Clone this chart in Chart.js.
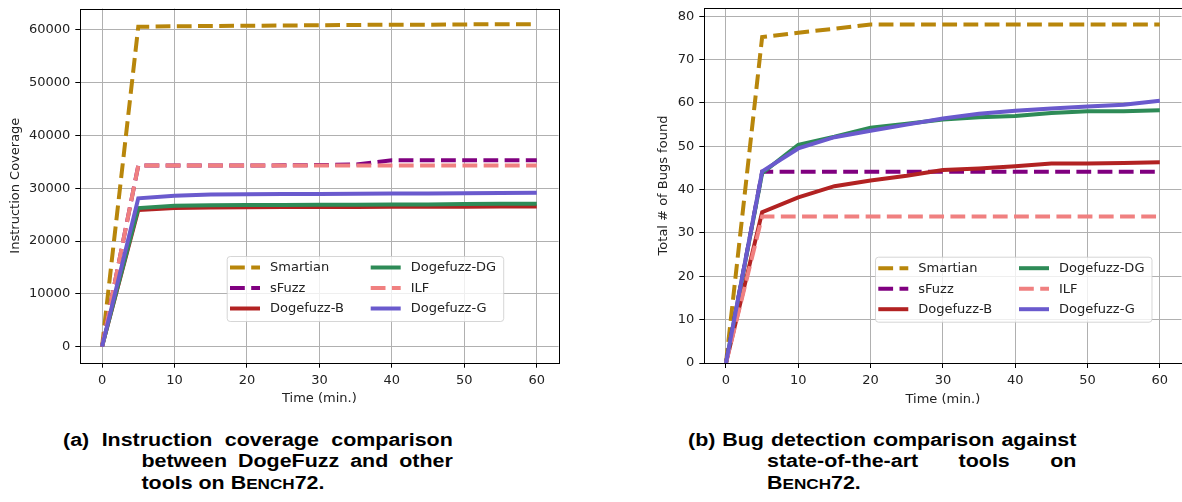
<!DOCTYPE html>
<html>
<head>
<meta charset="utf-8">
<script src="https://cdn.jsdelivr.net/npm/chart.js@4.4.1/dist/chart.umd.min.js"></script>
<style>
  body { margin: 0; background: #fff; width: 1182px; height: 502px; position: relative; overflow: hidden; }
  .grafico { position: absolute; top: 0; }
  .legenda {
    position: absolute; box-sizing: border-box;
    font: bold 18px "Liberation Sans", Arial, sans-serif; color: #000;
    line-height: 21.5px; text-align: justify;
    transform: scaleX(1.19); transform-origin: 0 0;
  }
  .sc { font-size: 0.8em; }
</style>
</head>
<body>
<canvas id="cobertura" class="grafico" width="580" height="410" style="left:0px"></canvas>
<canvas id="bugs" class="grafico" width="562" height="410" style="left:620px"></canvas>
<div class="legenda" style="left:63.3px; top:429.7px; width:327.5px; padding-left:65.9px; text-indent:-65.9px">(a) Instruction coverage comparison between DogeFuzz and other tools on B<span class="sc">ENCH</span>72.</div>
<div class="legenda" style="left:688.3px; top:429.7px; width:326.4px; padding-left:66.4px; text-indent:-66.4px">(b) Bug detection comparison against state-of-the-art tools on B<span class="sc">ENCH</span>72.</div>
<script>
// dados
const minutos = [0, 5, 10, 15, 20, 25, 30, 35, 40, 45, 50, 55, 60];
const ticksTempo = [0, 10, 20, 30, 40, 50, 60];
const ticksCobertura = [0, 10000, 20000, 30000, 40000, 50000, 60000];
const ticksBugs = [0, 10, 20, 30, 40, 50, 60, 70, 80];
const ferramentas = ['Smartian', 'sFuzz', 'Dogefuzz-B', 'Dogefuzz-DG', 'ILF', 'Dogefuzz-G'];

// cobertura de instrucoes
const coberturaSmartian = [0, 60600, 60700, 60750, 60800, 60850, 60900, 60950, 61000, 61000, 61050, 61100, 61100];
const coberturaSFuzz = [0, 34300, 34300, 34300, 34300, 34350, 34400, 34500, 35300, 35300, 35300, 35300, 35300];
const coberturaDogeB = [0, 25900, 26250, 26350, 26400, 26450, 26450, 26450, 26500, 26500, 26500, 26550, 26550];
const coberturaDogeDG = [0, 26250, 26700, 26800, 26850, 26850, 26900, 26900, 26950, 26950, 27000, 27050, 27050];
const coberturaILF = [0, 34300, 34300, 34300, 34300, 34300, 34300, 34300, 34300, 34300, 34300, 34300, 34300];
const coberturaDogeG = [0, 28100, 28600, 28800, 28850, 28900, 28900, 28950, 29000, 29000, 29050, 29100, 29150];

// bugs encontrados
const bugsSmartian = [0, 75.2, 76.2, 77.1, 78.1, 78.1, 78.1, 78.1, 78.1, 78.1, 78.1, 78.1, 78.1];
const bugsSFuzz = [0, 44.1, 44.1, 44.1, 44.1, 44.1, 44.1, 44.1, 44.1, 44.1, 44.1, 44.1, 44.1];
const bugsDogeB = [0, 34.8, 38.2, 40.8, 42.1, 43.2, 44.5, 44.9, 45.4, 46.0, 46.0, 46.15, 46.3];
const bugsDogeDG = [0, 43.8, 50.3, 52.2, 54.3, 55.2, 56.2, 56.7, 57.0, 57.7, 58.1, 58.1, 58.3];
const bugsILF = [0, 33.8, 33.8, 33.8, 33.8, 33.8, 33.8, 33.8, 33.8, 33.8, 33.8, 33.8, 33.8];
const bugsDogeG = [0, 44.2, 49.5, 52.1, 53.6, 55.0, 56.4, 57.5, 58.2, 58.7, 59.2, 59.6, 60.5];

// estilos
const cores = ['#b8860b', '#800080', '#b22222', '#2e8b57', '#f08080', '#6a5acd'];
const tracejado = [true, true, false, false, true, false];
const fonte = { family: '"DejaVu Sans", sans-serif', size: 13 };
const corTexto = '#222';

function montarDatasets(series) {
  return series.map((valores, i) => ({
    label: ferramentas[i],
    data: minutos.map((m, j) => ({ x: m, y: valores[j] })),
    borderColor: cores[i],
    backgroundColor: cores[i],
    borderWidth: 4,
    borderDash: tracejado[i] ? [14.8, 6.4] : [],
    pointRadius: 0,
    tension: 0,
    clip: 0,
    order: -i
  }));
}

// moldura (spines)
const moldura = {
  id: 'moldura',
  afterDatasetsDraw(chart) {
    const { left, right, top, bottom } = chart.chartArea;
    const ctx = chart.ctx;
    ctx.save();
    ctx.strokeStyle = '#000';
    ctx.lineWidth = 1;
    ctx.strokeRect(Math.round(left) + 0.5, Math.round(top) + 0.5, Math.round(right) - Math.round(left), Math.round(bottom) - Math.round(top));
    ctx.restore();
  }
};

// legenda em duas colunas, estilo matplotlib
const legendaMpl = {
  id: 'legendaMpl',
  afterDatasetsDraw(chart, args, opts) {
    const ctx = chart.ctx;
    const x = opts.x, y = opts.y, w = 276.5, h = 65;
    ctx.save();
    ctx.beginPath();
    ctx.roundRect(x + 0.5, y + 0.5, w, h, 3);
    ctx.fillStyle = 'rgba(255,255,255,0.8)';
    ctx.fill();
    ctx.strokeStyle = 'rgba(204,204,204,0.8)';
    ctx.lineWidth = 1;
    ctx.stroke();
    chart.data.datasets.forEach((ds, i) => {
      const col = Math.floor(i / 3), lin = i % 3;
      const lx = x + 3.3 + col * 140.7;
      const ly = y + 11.5 + lin * 20.5;
      ctx.beginPath();
      ctx.setLineDash(ds.borderDash);
      ctx.strokeStyle = ds.borderColor;
      ctx.lineWidth = ds.borderWidth;
      ctx.moveTo(lx, ly);
      ctx.lineTo(lx + 30, ly);
      ctx.stroke();
      ctx.setLineDash([]);
      ctx.fillStyle = corTexto;
      ctx.font = '13px "DejaVu Sans", sans-serif';
      ctx.textBaseline = 'middle';
      ctx.fillText(ds.label, lx + 40, ly + 0.5);
    });
    ctx.restore();
  }
};

function criarGrafico(canvas, series, cfg) {
  return new Chart(canvas, {
    type: 'line',
    data: { datasets: montarDatasets(series) },
    plugins: [moldura, legendaMpl],
    options: {
      responsive: false,
      animation: false,
      layout: { padding: cfg.padding },
      plugins: {
        legend: { display: false },
        tooltip: { enabled: false },
        legendaMpl: cfg.legenda
      },
      scales: {
        x: {
          type: 'linear',
          min: -3,
          max: 63,
          afterBuildTicks: (s) => { s.ticks = ticksTempo.map(v => ({ value: v })); },
          afterFit: (s) => { s.height = cfg.alturaX; s.paddingLeft = 0; s.paddingRight = 0; },
          grid: { color: '#b0b0b0', lineWidth: 1, tickLength: 5, tickColor: '#000', tickWidth: 1 },
          border: { display: false },
          ticks: { font: fonte, color: corTexto, padding: 5, maxRotation: 0, callback: v => String(v) },
          title: { display: true, text: 'Time (min.)', font: fonte, color: corTexto, padding: { top: 0, bottom: cfg.tituloX } }
        },
        y: {
          type: 'linear',
          min: cfg.yMin,
          max: cfg.yMax,
          afterBuildTicks: (s) => { s.ticks = cfg.ticksY.map(v => ({ value: v })); },
          afterFit: (s) => { s.width = cfg.larguraY; s.paddingTop = 0; s.paddingBottom = 0; },
          grid: { color: '#b0b0b0', lineWidth: 1, tickLength: 5, tickColor: '#000', tickWidth: 1 },
          border: { display: false },
          ticks: { font: fonte, color: corTexto, padding: 5, callback: v => String(v) },
          title: { display: true, text: cfg.tituloY, font: fonte, color: corTexto, padding: { top: cfg.tituloYPad, bottom: 0 } }
        }
      }
    }
  });
}

// INITIALIZE
criarGrafico(document.getElementById('cobertura'),
  [coberturaSmartian, coberturaSFuzz, coberturaDogeB, coberturaDogeDG, coberturaILF, coberturaDogeG],
  {
    padding: { top: 8.6, right: 21.5, bottom: 0, left: 0 },
    alturaX: 47.3, larguraY: 80.3,
    yMin: -3050, yMax: 64050, ticksY: ticksCobertura,
    tituloY: 'Instruction Coverage', tituloYPad: 8.2, tituloX: 3.5,
    legenda: { x: 226.7, y: 256 }
  });

criarGrafico(document.getElementById('bugs'),
  [bugsSmartian, bugsSFuzz, bugsDogeB, bugsDogeDG, bugsILF, bugsDogeG],
  {
    padding: { top: 8, right: 0.5, bottom: 0, left: 0 },
    alturaX: 47, larguraY: 84.3,
    yMin: 0, yMax: 81.9, ticksY: ticksBugs,
    tituloY: 'Total # of Bugs found', tituloYPad: 35.9, tituloX: 3,
    legenda: { x: 255, y: 256.7 }
  });
</script>
</body>
</html>
